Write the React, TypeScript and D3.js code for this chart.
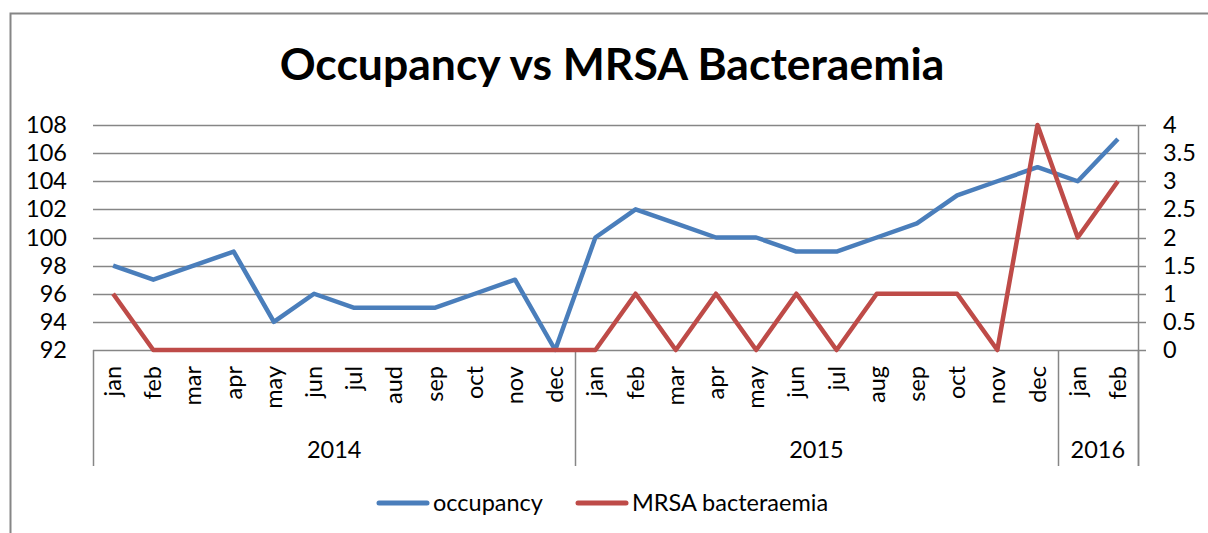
import React, { useEffect, useRef } from 'react'
import * as d3 from 'd3'

const months = [
  'jan', 'feb', 'mar', 'apr', 'may', 'jun', 'jul', 'aud', 'sep', 'oct', 'nov', 'dec',
  'jan', 'feb', 'mar', 'apr', 'may', 'jun', 'jul', 'aug', 'sep', 'oct', 'nov', 'dec',
  'jan', 'feb',
]
const years = [
  { label: '2014', count: 12 },
  { label: '2015', count: 12 },
  { label: '2016', count: 2 },
]
const occupancy = [98, 97, 98, 99, 94, 96, 95, 95, 95, 96, 97, 92, 100, 102, 101, 100, 100, 99, 99, 100, 101, 103, 104, 105, 104, 107]
const mrsa = [1, 0, 0, 0, 0, 0, 0, 0, 0, 0, 0, 0, 0, 1, 0, 1, 0, 1, 0, 1, 1, 1, 0, 4, 2, 3]
const leftTicks = [92, 94, 96, 98, 100, 102, 104, 106, 108]
const rightTicks = [0, 0.5, 1, 1.5, 2, 2.5, 3, 3.5, 4]

const BLUE = '#4a7ebb'
const RED = '#be4b48'
const GRID = '#868686'
const FONT = 'Lato, "Open Sans", sans-serif'
const FS = 23.5

export default function App() {
  const svgRef = useRef<SVGSVGElement>(null)

  useEffect(() => {
    const svg = d3.select(svgRef.current)
    svg.selectAll('*').remove()

    const left = 93, right = 1138, top = 125, bottom = 350, catBottom = 466

    // outer chart border
    svg.append('rect')
      .attr('x', 10.5).attr('y', 13.5).attr('width', 1220).attr('height', 540)
      .attr('fill', 'white').attr('stroke', GRID).attr('stroke-width', 2)

    svg.append('text')
      .attr('x', 612).attr('y', 80).attr('text-anchor', 'middle')
      .attr('font-family', FONT).attr('font-weight', 700).attr('font-size', 44.5)
      .text('Occupancy vs MRSA Bacteraemia')

    const band = d3.scaleBand<number>().domain(d3.range(months.length)).range([left, right])
    const x = (i: number) => (band(i) as number) + band.bandwidth() / 2
    const yL = d3.scaleLinear().domain([92, 108]).range([bottom, top])
    const yR = d3.scaleLinear().domain([0, 4]).range([bottom, top])

    // Gridlines
    const g = svg.append('g')
    g.selectAll('line.grid').data(leftTicks).join('line')
      .attr('x1', left).attr('x2', right + 8)
      .attr('y1', (d) => Math.round(yL(d)) + 0.5).attr('y2', (d) => Math.round(yL(d)) + 0.5)
      .attr('stroke', GRID).attr('stroke-width', 1.5)

    // right axis line
    g.append('line').attr('x1', right + 0.5).attr('x2', right + 0.5)
      .attr('y1', top).attr('y2', catBottom).attr('stroke', GRID).attr('stroke-width', 1.5)

    // category axis dividers
    let acc = 0
    const bounds = [0]
    years.forEach((yr) => { acc += yr.count; bounds.push(acc) })
    bounds.forEach((b) => {
      const bx = b === months.length ? right : (band(b) as number)
      g.append('line').attr('x1', Math.round(bx) + 0.5).attr('x2', Math.round(bx) + 0.5)
        .attr('y1', bottom).attr('y2', catBottom).attr('stroke', GRID).attr('stroke-width', 1.5)
    })

    // tick labels
    svg.append('g').selectAll('text').data(leftTicks).join('text')
      .attr('x', 67).attr('y', (d) => yL(d) + 8).attr('text-anchor', 'end')
      .attr('font-family', FONT).attr('font-size', FS).text((d) => d)
    svg.append('g').selectAll('text').data(rightTicks).join('text')
      .attr('x', 1163).attr('y', (d) => yR(d) + 8)
      .attr('font-family', FONT).attr('font-size', FS).text((d) => d)

    // month labels
    svg.append('g').selectAll('text').data(months).join('text')
      .attr('transform', (_d, i) => `translate(${x(i) + 8},366) rotate(-90)`)
      .attr('text-anchor', 'end')
      .attr('font-family', FONT).attr('font-size', FS).text((d) => d)

    // year labels
    years.forEach((yr, i) => {
      const x0 = band(bounds[i]) as number
      const x1 = bounds[i + 1] === months.length ? right : (band(bounds[i + 1]) as number)
      svg.append('text').attr('x', (x0 + x1) / 2).attr('y', 458).attr('text-anchor', 'middle')
        .attr('font-family', FONT).attr('font-size', FS).text(yr.label)
    })

    const lineL = d3.line<number>().x((_d, i) => x(i)).y((d) => yL(d))
    const lineR = d3.line<number>().x((_d, i) => x(i)).y((d) => yR(d))
    svg.append('path').datum(occupancy).attr('d', lineL)
      .attr('fill', 'none').attr('stroke', BLUE).attr('stroke-width', 4.5).attr('stroke-linejoin', 'round')
    svg.append('path').datum(mrsa).attr('d', lineR)
      .attr('fill', 'none').attr('stroke', RED).attr('stroke-width', 4.5).attr('stroke-linejoin', 'round')

    // legend
    const legend = [
      { label: 'occupancy', color: BLUE, x: 377 },
      { label: 'MRSA bacteraemia', color: RED, x: 576 },
    ]
    legend.forEach((l) => {
      svg.append('line').attr('x1', l.x + 2).attr('x2', l.x + 50).attr('y1', 503).attr('y2', 503)
        .attr('stroke', l.color).attr('stroke-width', 5).attr('stroke-linecap', 'round')
      svg.append('text').attr('x', l.x + 56).attr('y', 511)
        .attr('font-family', FONT).attr('font-size', FS).text(l.label)
    })
  }, [])

  return (
    <svg ref={svgRef} width={1208} height={533}
      style={{ position: 'absolute', left: 0, top: 0, background: 'white' }} />
  )
}
